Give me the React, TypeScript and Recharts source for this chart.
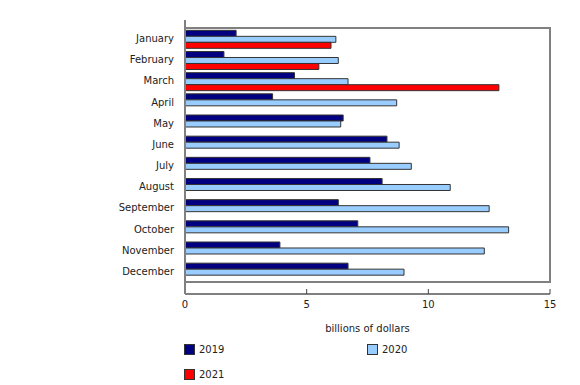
import React from 'react';
import { BarChart, Bar, XAxis, YAxis, ReferenceArea } from 'recharts';

const months = ['January', 'February', 'March', 'April', 'May', 'June', 'July', 'August', 'September', 'October', 'November', 'December'];
const sales2019 = [2.1, 1.6, 4.5, 3.6, 6.5, 8.3, 7.6, 8.1, 6.3, 7.1, 3.9, 6.7];
const sales2020 = [6.2, 6.3, 6.7, 8.7, 6.4, 8.8, 9.3, 10.9, 12.5, 13.3, 12.3, 9.0];
const sales2021 = [6.0, 5.5, 12.9, null, null, null, null, null, null, null, null, null];
const xTicks = [0, 5, 10, 15];

const series = [
  { key: 'y2019', name: '2019', color: '#000080' },
  { key: 'y2020', name: '2020', color: '#99ccff' },
  { key: 'y2021', name: '2021', color: '#ff0000' },
];

const data = months.map((m, i) => ({
  month: m,
  y2019: sales2019[i],
  y2020: sales2020[i],
  y2021: sales2021[i],
}));

const font = { fontFamily: 'DejaVu Sans, Verdana, sans-serif', fontSize: 10, fill: '#222' };
const axisColor = '#808080';

export default function App() {
  return (
    <div style={{ position: 'absolute', left: 0, top: 0, width: 580, height: 385, background: '#fff', fontFamily: 'DejaVu Sans, Verdana, sans-serif' }}>
      <BarChart
        width={580}
        height={385}
        data={data}
        layout="vertical"
        margin={{ top: 20, right: 30, left: 0, bottom: 51 }}
        barCategoryGap="11%"
        barGap={0}
      >
        {/* plot frame */}
        <ReferenceArea x1={0} x2={15} fill="none" stroke={axisColor} strokeWidth={2} fillOpacity={0} />
        <XAxis
          type="number"
          domain={[0, 15]}
          ticks={xTicks}
          axisLine={{ stroke: axisColor, strokeWidth: 2 }}
          tickLine={{ stroke: '#444' }}
          tickSize={-5}
          tickMargin={12}
          tick={font}
          height={40}
          label={{ value: 'billions of dollars', position: 'insideBottom', offset: 2, style: font }}
        />
        <YAxis
          type="category"
          dataKey="month"
          width={185}
          axisLine={{ stroke: axisColor, strokeWidth: 2 }}
          tickLine={false}
          tickMargin={5}
          tick={font}
          interval={0}
          padding={{ top: 8, bottom: 12 }}
        />
        {series.map((s) => (
          <Bar
            key={s.key}
            dataKey={s.key}
            name={s.name}
            fill={s.color}
            stroke="#333"
            strokeWidth={1}
            isAnimationActive={false}
          />
        ))}
      </BarChart>
      {series.map((s, i) => (
        <div
          key={s.key}
          style={{
            position: 'absolute',
            left: i === 1 ? 367 : 184,
            top: i === 2 ? 369 : 344,
            display: 'flex',
            alignItems: 'center',
            fontSize: 10,
            color: '#222',
          }}
        >
          <span style={{ display: 'inline-block', width: 9, height: 9, background: s.color, border: '1px solid #333', marginRight: 4 }} />
          <span>{s.name}</span>
        </div>
      ))}
    </div>
  );
}
